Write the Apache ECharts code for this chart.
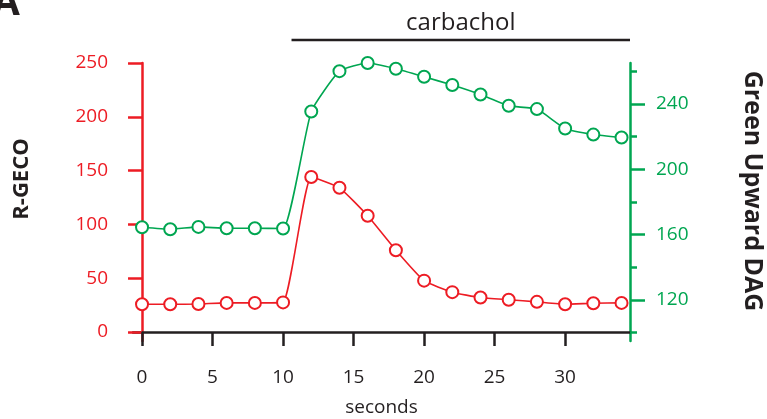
<!DOCTYPE html>
<html>
<head>
<meta charset="utf-8">
<script src="https://cdn.jsdelivr.net/npm/echarts@6/dist/echarts.min.js"></script>
<style>html,body{margin:0;padding:0;background:#fff;}#c{width:767px;height:419px;}</style>
</head>
<body>
<div id="c"></div>
<script>
const seconds = [0, 2, 4, 6, 8, 10, 12, 14, 16, 18, 20, 22, 24, 26, 28, 30, 32, 34];
const rgeco = [25.7, 25.7, 26, 27, 27, 27.5, 144, 134, 108, 76, 47.7, 37, 32, 30, 28, 25.7, 26.7, 27];
const greenDAG = [164.5, 163.3, 164.7, 163.9, 163.9, 163.7, 235.3, 260, 265, 261.5, 256.6, 251.5, 245.7, 238.8, 236.8, 224.9, 221.2, 219.4];
const xTicks = [0, 5, 10, 15, 20, 25, 30];
const leftTicks = [0, 50, 100, 150, 200, 250];
const rightTicks = [120, 160, 200, 240];
const rightMinorTicks = [100, 140, 180, 220, 260];
const carbachol = [10.6, 34.6];

const RED = '#ed1c24', GREEN = '#00a651', BLACK = '#231f20';
const FONT = '"Open Sans", sans-serif';

const chart = echarts.init(document.getElementById('c'));
const option = {
  animation: false,
  grid: { left: 133, right: 137, top: 63, bottom: 78, outerBoundsMode: 'none' },
  xAxis: {
    type: 'value', min: -0.64, max: 34.6,
    axisLine: { lineStyle: { color: BLACK, width: 2.5 } },
    axisTick: { customValues: xTicks, length: 14, lineStyle: { color: BLACK, width: 2.5 } },
    axisLabel: { customValues: xTicks, margin: 27, color: BLACK, fontSize: 19, fontFamily: FONT },
    splitLine: { show: false },
    name: 'seconds', nameLocation: 'middle', nameGap: 57,
    nameTextStyle: { color: BLACK, fontSize: 19, fontFamily: FONT }
  },
  yAxis: [{
    type: 'value', position: 'left', min: -8.4, max: 250,
    axisLine: { show: true, lineStyle: { color: RED, width: 2.5 } },
    axisTick: { show: true, customValues: leftTicks, length: 14, lineStyle: { color: RED, width: 2.5 } },
    axisLabel: { customValues: leftTicks, margin: 25, color: RED, fontSize: 19, fontFamily: FONT },
    splitLine: { show: false }
  }, {
    type: 'value', position: 'right', min: 94.9, max: 265,
    axisLine: { show: true, lineStyle: { color: GREEN, width: 2.5 } },
    axisTick: { show: true, customValues: rightTicks, length: 15, lineStyle: { color: GREEN, width: 2.5 } },
    axisLabel: { customValues: rightTicks, margin: 26, color: GREEN, fontSize: 19, fontFamily: FONT },
    splitLine: { show: false }
  }, {
    type: 'value', position: 'right', min: 94.9, max: 265,
    axisLine: { show: false },
    axisTick: { show: true, customValues: rightMinorTicks, length: 7, lineStyle: { color: GREEN, width: 2.5 } },
    axisLabel: { show: false },
    splitLine: { show: false }
  }],
  series: [{
    type: 'line', yAxisIndex: 1,
    data: seconds.map((s, i) => [s, greenDAG[i]]),
    smooth: 0.15, symbol: 'emptyCircle', symbolSize: 12,
    lineStyle: { color: GREEN, width: 1.6 },
    itemStyle: { color: GREEN, borderColor: GREEN, borderWidth: 1.5 },
    z: 3
  }, {
    type: 'line', yAxisIndex: 0,
    data: seconds.map((s, i) => [s, rgeco[i]]),
    smooth: 0.15, symbol: 'emptyCircle', symbolSize: 12,
    lineStyle: { color: RED, width: 1.6 },
    itemStyle: { color: RED, borderColor: RED, borderWidth: 1.5 },
    z: 4
  }]
};
chart.setOption(option);

const x0 = chart.convertToPixel({ xAxisIndex: 0 }, carbachol[0]);
const x1 = chart.convertToPixel({ xAxisIndex: 0 }, carbachol[1]);
chart.setOption({
  graphic: [
    { type: 'line', shape: { x1: x0, y1: 40, x2: x1, y2: 40 }, style: { stroke: BLACK, lineWidth: 2.5 } },
    { type: 'text', x: (x0 + x1) / 2, y: 23, style: { text: 'carbachol', fill: BLACK, font: '24px ' + FONT, textAlign: 'center', textVerticalAlign: 'middle' } },
    { type: 'text', x: 22, y: 179, rotation: Math.PI / 2, style: { text: 'R-GECO', fill: BLACK, font: 'bold 22px ' + FONT, textAlign: 'center', textVerticalAlign: 'middle' } },
    { type: 'text', x: 752, y: 191, rotation: -Math.PI / 2, style: { text: 'Green Upward DAG', fill: BLACK, font: 'bold 25px ' + FONT, textAlign: 'center', textVerticalAlign: 'middle' } },
    { type: 'text', x: 6, y: 24, style: { text: 'A', fill: BLACK, font: 'bold 40px ' + FONT, textAlign: 'center', textVerticalAlign: 'bottom' } }
  ]
});
</script>
</body>
</html>
